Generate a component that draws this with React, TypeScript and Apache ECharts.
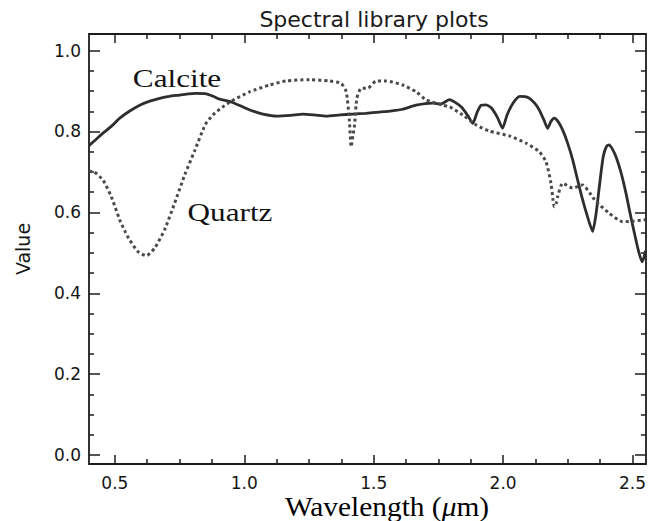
import { useEffect, useRef } from "react";
import * as echarts from "echarts";

// Reflectance spectra (wavelength in µm, value 0..1)
const calciteWavelength = [
  0.4, 0.43, 0.454, 0.485, 0.519, 0.556, 0.596, 0.635, 0.673, 0.71, 0.75, 0.785, 0.815, 0.853, 0.88,
  0.905, 0.95, 1.008, 1.04, 1.072, 1.123, 1.18, 1.226, 1.27, 1.317, 1.37, 1.419, 1.47, 1.522, 1.57,
  1.612, 1.664, 1.728, 1.76, 1.793, 1.815, 1.84, 1.865, 1.883, 1.9, 1.915, 1.935, 1.955, 1.978, 1.998,
  2.015, 2.031, 2.05, 2.065, 2.085, 2.102, 2.122, 2.14, 2.158, 2.172, 2.185, 2.198, 2.212, 2.23, 2.25,
  2.269, 2.29, 2.307, 2.325, 2.346, 2.36, 2.372, 2.387, 2.4, 2.41, 2.422, 2.436, 2.455, 2.475, 2.49,
  2.507, 2.522, 2.537, 2.545, 2.55,
];
const calciteValue = [
  0.765, 0.782, 0.796, 0.812, 0.833, 0.85, 0.865, 0.875, 0.882, 0.887, 0.89, 0.893, 0.894, 0.893, 0.887,
  0.88, 0.873, 0.857, 0.849, 0.843, 0.838, 0.84, 0.843, 0.841, 0.838, 0.841, 0.843, 0.845, 0.848, 0.851,
  0.855, 0.865, 0.87, 0.868, 0.879, 0.872, 0.86, 0.838, 0.82, 0.848, 0.865, 0.866, 0.858, 0.835, 0.808,
  0.84, 0.862, 0.88, 0.887, 0.886, 0.882, 0.87, 0.853, 0.828, 0.808, 0.825, 0.833, 0.825, 0.804, 0.77,
  0.73, 0.675, 0.632, 0.592, 0.553, 0.6, 0.664, 0.738, 0.764, 0.767, 0.757, 0.738, 0.7, 0.647, 0.6,
  0.55, 0.508, 0.478, 0.49, 0.505,
];

const quartzWavelength = [
  0.4, 0.42, 0.454, 0.486, 0.519, 0.54, 0.557, 0.589, 0.622, 0.654, 0.692, 0.731, 0.77, 0.808, 0.85,
  0.879, 0.915, 0.95, 1.02, 1.098, 1.162, 1.252, 1.329, 1.374, 1.394, 1.406, 1.413, 1.42, 1.426, 1.435,
  1.452, 1.477, 1.51, 1.548, 1.612, 1.664, 1.703, 1.767, 1.793, 1.844, 1.896, 1.947, 2.024, 2.089, 2.14,
  2.166, 2.185, 2.193, 2.198, 2.205, 2.211, 2.23, 2.269, 2.307, 2.335, 2.359, 2.41, 2.462, 2.5, 2.55,
];
const quartzValue = [
  0.702, 0.7, 0.68, 0.639, 0.581, 0.552, 0.532, 0.503, 0.493, 0.512, 0.557, 0.623, 0.693, 0.752, 0.818,
  0.841, 0.86, 0.875, 0.898, 0.915, 0.925, 0.928, 0.925, 0.919, 0.898, 0.828, 0.762, 0.79, 0.815, 0.882,
  0.907, 0.907, 0.925, 0.925, 0.915, 0.898, 0.878, 0.865, 0.861, 0.841, 0.816, 0.801, 0.789, 0.771, 0.75,
  0.725, 0.672, 0.63, 0.614, 0.622, 0.639, 0.672, 0.66, 0.668, 0.648, 0.627, 0.598, 0.577, 0.578, 0.582,
];

// Axis ranges and tick marks
const X_MIN = 0.4;
const X_MAX = 2.552;
const Y_MIN = -0.022;
const Y_MAX = 1.041;
const xMajorTicks = [0.5, 1.0, 1.5, 2.0, 2.5];
const xMinorTicks = [0.625, 0.75, 0.875, 1.125, 1.25, 1.375, 1.625, 1.75, 1.875, 2.125, 2.25, 2.375];
const yMajorTicks = [0, 0.2, 0.4, 0.6, 0.8, 1.0];
const yMinorTicks = [
  0.05, 0.1, 0.15, 0.25, 0.3, 0.35, 0.45, 0.5, 0.55, 0.65, 0.7, 0.75, 0.85, 0.9, 0.95,
];

const FRAME = "#1c1c1c";
const TICK_FONT = "DejaVu Sans";
const SERIF = "Liberation Serif";

function zip(xs: number[], ys: number[]) {
  return xs.map((x, i) => [x, ys[i]]);
}

function axis(
  kind: "x" | "y",
  position: string,
  ticks: number[],
  tickLength: number,
  withLine: boolean,
  withLabels: boolean
) {
  return {
    type: "value",
    position,
    min: kind === "x" ? X_MIN : Y_MIN,
    max: kind === "x" ? X_MAX : Y_MAX,
    axisLine: { show: withLine, onZero: false, lineStyle: { color: FRAME, width: 1.8 } },
    axisTick: {
      show: true,
      inside: true,
      length: tickLength,
      customValues: ticks,
      lineStyle: { color: FRAME, width: 1.5 },
    },
    axisLabel: withLabels
      ? {
          show: true,
          customValues: ticks,
          formatter: (v: number) => v.toFixed(1),
          margin: kind === "x" ? 10 : 8,
          fontFamily: TICK_FONT,
          fontSize: 17,
          color: "#151515",
        }
      : { show: false },
    splitLine: { show: false },
    minorTick: { show: false },
  };
}

export default function App() {
  const ref = useRef<HTMLDivElement>(null);

  useEffect(() => {
    if (!ref.current) return;
    const chart = echarts.init(ref.current, null, { renderer: "svg" });

    chart.setOption({
      animation: false,
      backgroundColor: "#ffffff",
      grid: { left: 89, right: 2, top: 34, bottom: 57, containLabel: false },
      xAxis: [
        axis("x", "bottom", xMajorTicks, 9, true, true),
        axis("x", "bottom", xMinorTicks, 5, false, false),
        axis("x", "top", xMajorTicks, 9, true, false),
        axis("x", "top", xMinorTicks, 5, false, false),
      ],
      yAxis: [
        {
          ...axis("y", "left", yMajorTicks, 11, true, true),
          name: "Value",
          nameLocation: "middle",
          nameGap: 57,
          nameRotate: 90,
          nameTextStyle: { fontFamily: TICK_FONT, fontSize: 19, color: "#151515" },
        },
        axis("y", "left", yMinorTicks, 5, false, false),
        axis("y", "right", yMajorTicks, 11, true, false),
        axis("y", "right", yMinorTicks, 5, false, false),
      ],
      series: [
        {
          name: "Calcite",
          type: "line",
          xAxisIndex: 0,
          yAxisIndex: 0,
          data: zip(calciteWavelength, calciteValue),
          showSymbol: false,
          symbol: "none",
          smooth: 0.2,
          silent: true,
          lineStyle: { color: "#2e2e2e", width: 2.8 },
        },
        {
          name: "Quartz",
          type: "line",
          xAxisIndex: 0,
          yAxisIndex: 0,
          data: zip(quartzWavelength, quartzValue),
          showSymbol: false,
          symbol: "none",
          smooth: 0.2,
          silent: true,
          lineStyle: { color: "#4a4a4a", width: 3, type: [3, 3], cap: "butt" },
        },
      ],
      graphic: [
        {
          type: "text",
          x: 374,
          y: 19.5,
          style: {
            text: "Spectral library plots",
            font: `22px "${TICK_FONT}"`,
            fill: "#1a1a1a",
            align: "center",
            verticalAlign: "middle",
          },
        },
        {
          type: "text",
          x: 177,
          y: 77.5,
          scaleX: 1.2,
          style: {
            text: "Calcite",
            font: `26px "${SERIF}"`,
            fill: "#111111",
            align: "center",
            verticalAlign: "middle",
          },
        },
        {
          type: "text",
          x: 230,
          y: 212,
          scaleX: 1.2,
          style: {
            text: "Quartz",
            font: `26px "${SERIF}"`,
            fill: "#111111",
            align: "center",
            verticalAlign: "middle",
          },
        },
        {
          type: "text",
          x: 387,
          y: 506,
          scaleX: 1.05,
          style: {
            text: "{a|Wavelength (}{b|μ}{a|m)}",
            align: "center",
            verticalAlign: "middle",
            rich: {
              a: { fontFamily: SERIF, fontSize: 28, color: "#111111" },
              b: { fontFamily: SERIF, fontSize: 28, fontStyle: "italic", color: "#111111" },
            },
          },
        },
      ],
    });

    return () => chart.dispose();
  }, []);

  return (
    <div
      ref={ref}
      style={{ position: "fixed", left: 0, top: 0, width: 649, height: 521, background: "#fff" }}
    />
  );
}
